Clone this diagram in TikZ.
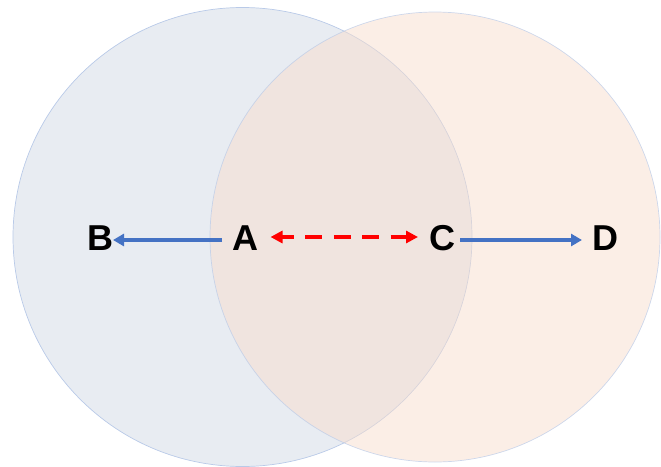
\documentclass[tikz,border=0pt]{standalone}
\usepackage{fontspec}
\setmainfont{Liberation Sans}
\usetikzlibrary{arrows.meta}
\definecolor{leftfill}{RGB}{232,236,242}
\definecolor{rightfill}{RGB}{248,222,206}
\definecolor{ringedge}{RGB}{185,202,232}
\definecolor{bluearrow}{RGB}{68,114,196}
\definecolor{redarrow}{RGB}{255,0,0}
\begin{document}
\begin{tikzpicture}[x=1pt,y=-1pt,
  ring/.style={circle,inner sep=0pt,draw=ringedge,line width=0.7pt},
  letter/.style={inner sep=0pt,font=\fontsize{36}{36}\selectfont\bfseries},
  bluelink/.style={draw=bluearrow,line width=3.3pt,-{Triangle[length=11pt,width=12pt]}},
  redlink/.style={draw=redarrow,line width=4.2pt,{Triangle[length=12pt,width=12pt]}-{Triangle[length=12pt,width=12pt]},dash pattern=on 16.7pt off 11.7pt,dash phase=4.7pt}]
\useasboundingbox (0,0) rectangle (661,466);
\node[ring,fill=leftfill,minimum size=459pt] (L) at (242.5,237) {};
\node[ring,fill=rightfill,fill opacity=0.5,draw opacity=0.7,minimum size=450pt] (R) at (435,237) {};
\node[letter] (B) at (100,238) {B};
\node[letter] (A) at (245,238) {A};
\node[letter] (C) at (442,238) {C};
\node[letter] (D) at (605,238) {D};
\coordinate (ab) at (222,240);
\coordinate (bt) at (113,240);
\coordinate (cs) at (460,240);
\coordinate (dt) at (582,240);
\coordinate (rl) at (270.5,237);
\coordinate (rr) at (418,237);
\draw[bluelink] (ab) -- (bt);
\draw[bluelink] (cs) -- (dt);
\draw[redlink] (rl) -- (rr);
\end{tikzpicture}
\end{document}
